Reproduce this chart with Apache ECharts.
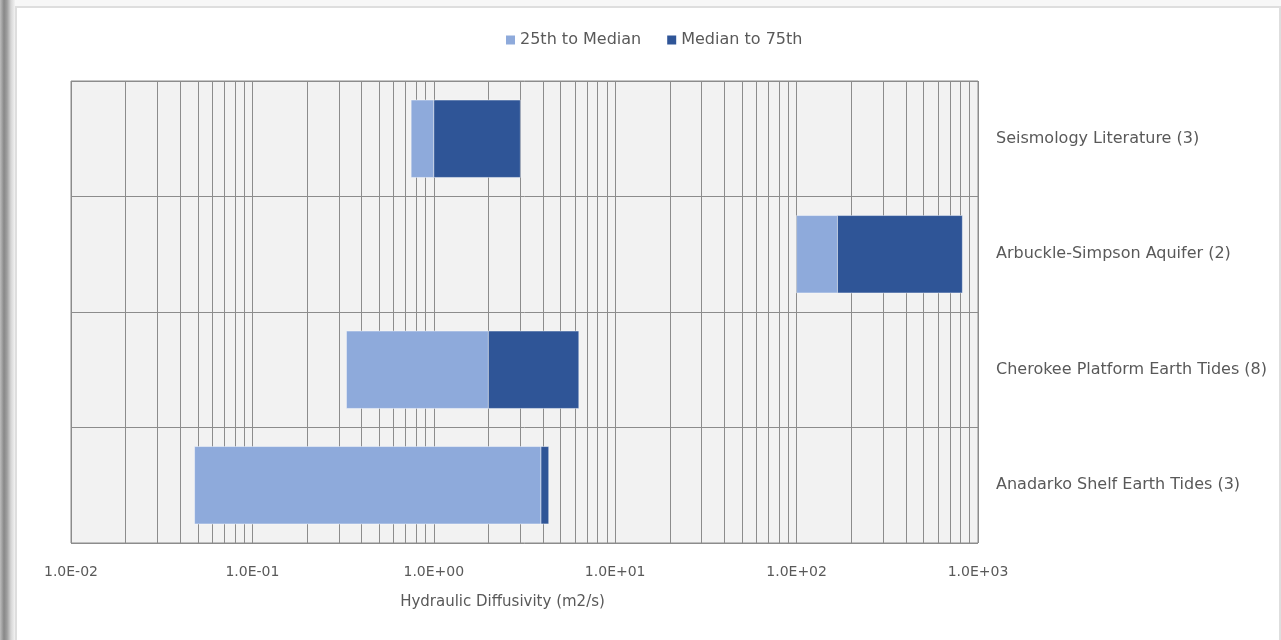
<!DOCTYPE html>
<html>
<head>
<meta charset="utf-8">
<script src="https://cdn.jsdelivr.net/npm/echarts@6/dist/echarts.min.js"></script>
<style>
  html, body { margin: 0; padding: 0; background: #ffffff; }
  #wrap { position: relative; width: 1281px; height: 640px; overflow: hidden; background: #f7f7f7; }
  #shade {
    position: absolute; left: 0; top: 0; width: 15px; height: 640px;
    background: linear-gradient(to right, #bdbdbd 0px, #888888 4px, #9e9e9e 7px, #d6d6d6 11px, #f2f2f2 15px);
  }
  #frame {
    position: absolute; left: 15px; top: 6px; width: 1262px; height: 660px;
    background: #ffffff; border: 2px solid #dedede;
  }
  #chart { position: absolute; left: 0; top: 0; width: 1281px; height: 640px; }
</style>
</head>
<body>
<div id="wrap">
  <div id="shade"></div>
  <div id="frame"></div>
  <div id="chart"></div>
</div>
<script>
// Studies, listed top to bottom
const categories = [
  'Seismology Literature (3)',
  'Arbuckle-Simpson Aquifer (2)',
  'Cherokee Platform Earth Tides (8)',
  'Anadarko Shelf Earth Tides (3)'
];
// Hydraulic diffusivity percentiles (m2/s)
const p25    = [0.75, 100, 0.33, 0.048];
const median = [1.0, 168, 2.0, 3.9];
const p75    = [3.0, 820, 6.3, 4.3];

const seriesNames = ['25th to Median', 'Median to 75th'];
const tickLabels = ['1.0E-02', '1.0E-01', '1.0E+00', '1.0E+01', '1.0E+02', '1.0E+03'];
const minorMultipliers = [2, 3, 4, 5, 6, 7, 8, 9];
const decadeStarts = [0.01, 0.1, 1, 10, 100];

const FONT = '"DejaVu Sans", sans-serif';
const TEXT = '#595959';
const GRID = '#8c8c8c';

// minor log gridlines (2..9 within each decade)
const minorLines = [];
decadeStarts.forEach(d => minorMultipliers.forEach(m => minorLines.push({ xAxis: +(d * m).toPrecision(3) })));

const lowerData = categories.map((c, i) => [i, p25[i], median[i]]);
const upperData = categories.map((c, i) => [i, median[i], p75[i]]);

function rangeBar(params, api) {
  const cat = api.value(0);
  const a = api.coord([api.value(1), cat]);
  const b = api.coord([api.value(2), cat]);
  const h = api.size([0, 1])[1] * 0.67;
  return {
    type: 'rect',
    shape: { x: a[0], y: a[1] - h / 2, width: b[0] - a[0], height: h },
    style: Object.assign(api.style(), { stroke: 'rgba(255,255,255,0.45)', lineWidth: 1 })
  };
}

const chart = echarts.init(document.getElementById('chart'), null, { renderer: 'canvas' });
chart.setOption({
  animation: false,
  textStyle: { fontFamily: FONT },
  legend: {
    top: 27, left: 501,
    icon: 'rect', itemWidth: 9, itemHeight: 9, itemGap: 26,
    textStyle: { fontSize: 16, color: TEXT, fontFamily: FONT },
    data: seriesNames
  },
  grid: {
    left: 71, right: 303, top: 81, bottom: 97,
    show: true, backgroundColor: '#f2f2f2', borderColor: GRID, borderWidth: 1
  },
  xAxis: {
    type: 'log', logBase: 10, min: 0.01, max: 1000,
    axisLine: { show: false },
    axisTick: { show: false },
    splitLine: { show: true, lineStyle: { color: GRID, width: 1 } },
    axisLabel: {
      margin: 22, fontSize: 14, color: TEXT, fontFamily: FONT,
      formatter: v => tickLabels[Math.round(Math.log10(v)) + 2]
    },
    name: 'Hydraulic Diffusivity (m2/s)',
    nameLocation: 'middle', nameGap: 52,
    nameTextStyle: { fontSize: 15, color: TEXT, fontFamily: FONT, padding: [0, 44, 0, 0] }
  },
  yAxis: {
    type: 'category', data: categories, inverse: true, position: 'right',
    axisLine: { show: false },
    axisTick: { show: false },
    splitLine: { show: true, lineStyle: { color: GRID, width: 1 } },
    axisLabel: { margin: 18, fontSize: 16, color: TEXT, fontFamily: FONT, align: 'left' }
  },
  series: [
    {
      name: 'gridlines', type: 'line', data: [], z: 1, silent: true,
      markLine: {
        silent: true, symbol: 'none', label: { show: false },
        lineStyle: { color: GRID, width: 1, type: 'solid' },
        data: minorLines
      }
    },
    {
      name: seriesNames[0], type: 'custom', z: 5,
      itemStyle: { color: '#8eaadb' },
      encode: { x: [1, 2], y: 0 },
      renderItem: rangeBar, data: lowerData
    },
    {
      name: seriesNames[1], type: 'custom', z: 5,
      itemStyle: { color: '#2f5597' },
      encode: { x: [1, 2], y: 0 },
      renderItem: rangeBar, data: upperData
    }
  ]
});
</script>
</body>
</html>
